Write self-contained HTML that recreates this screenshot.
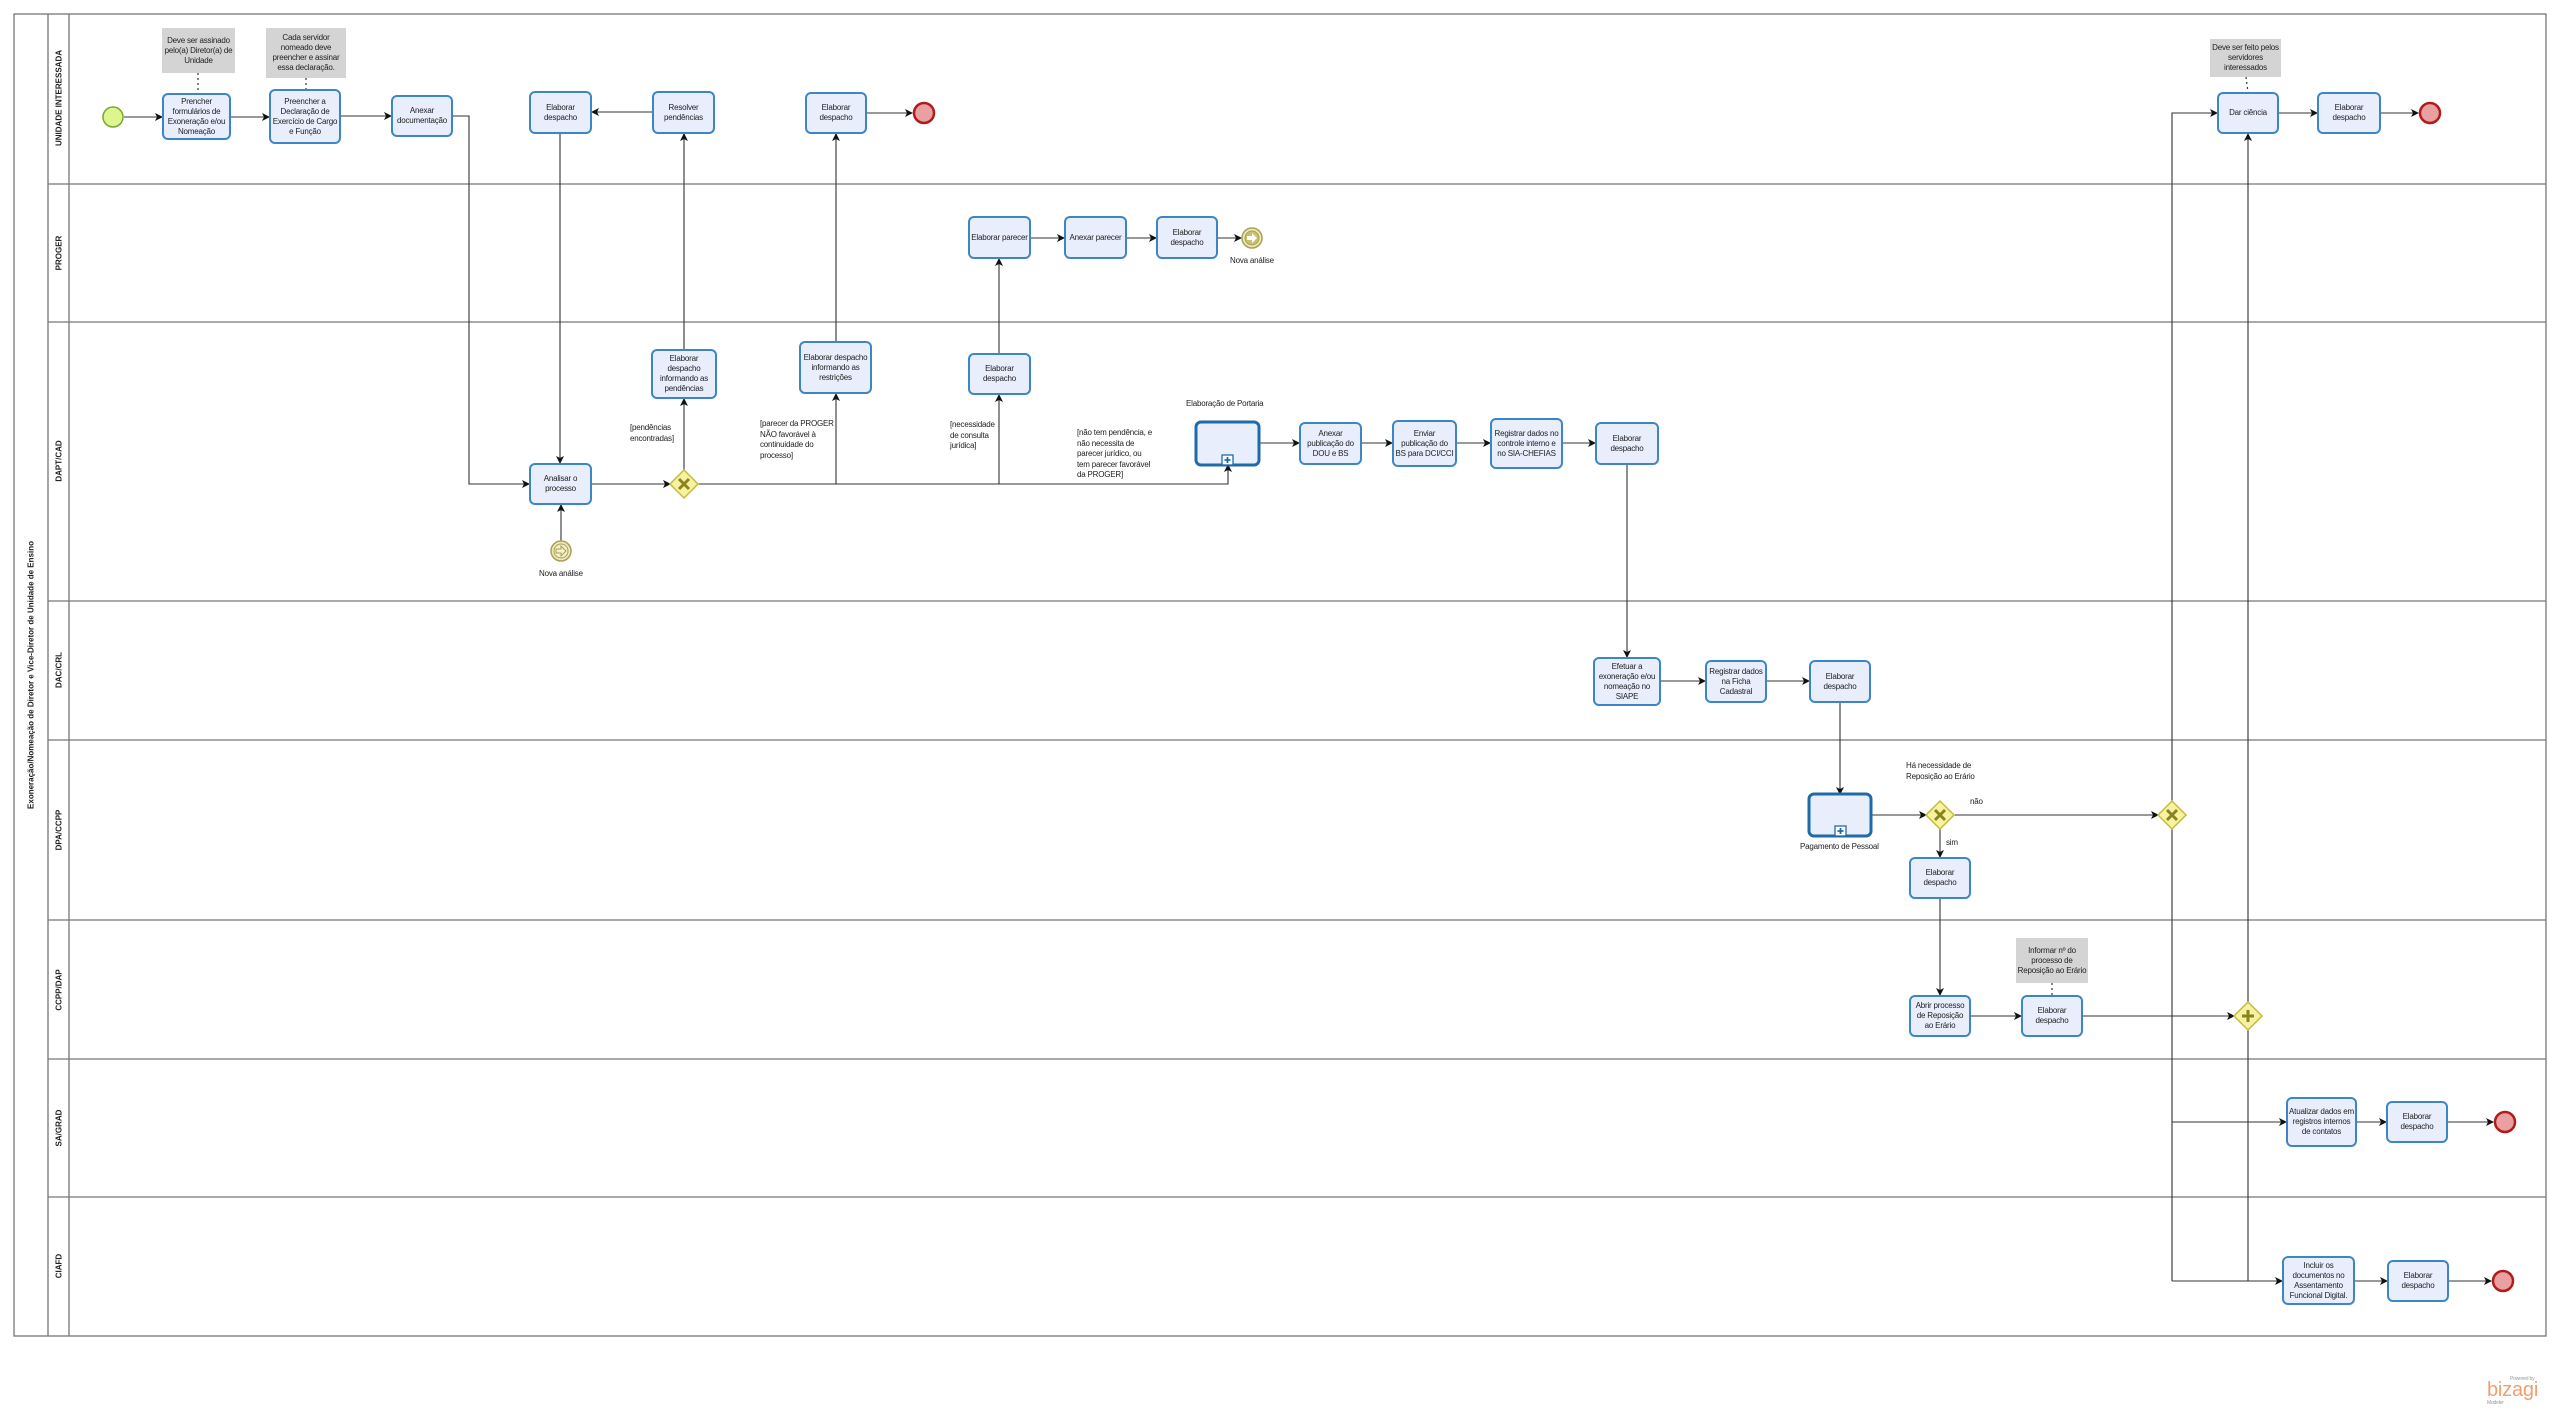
<!DOCTYPE html>
<html><head><meta charset="utf-8"><style>
body{margin:0;width:2560px;height:1414px;background:#fff;position:relative;overflow:hidden;font-family:"Liberation Sans",sans-serif;}
.t{position:absolute;box-sizing:border-box;border:2px solid #3d86c6;border-radius:6px;background:#e9eefd;display:flex;align-items:center;justify-content:center;text-align:center;font-size:8px;line-height:10px;letter-spacing:-0.2px;color:#222;padding:0 1px;}
.n{position:absolute;box-sizing:border-box;background:#d4d4d4;display:flex;align-items:center;justify-content:center;text-align:center;font-size:8px;line-height:10px;letter-spacing:-0.2px;color:#222;}
.l{position:absolute;font-size:8px;line-height:10.5px;letter-spacing:-0.2px;color:#222;}
svg{position:absolute;left:0;top:0;}
.lane{position:absolute;font-weight:bold;font-size:8px;white-space:nowrap;transform:translate(-50%,-50%) rotate(-90deg);color:#222;}
</style></head><body>
<svg width="2560" height="1414">
<defs>
<marker id="a" markerWidth="8" markerHeight="8" refX="7" refY="4" orient="auto" markerUnits="userSpaceOnUse"><path d="M0,0 L8,4 L0,8 L2,4 z" fill="#111"/></marker>
</defs>
<g fill="none" stroke="#777" stroke-width="1.3">
<rect x="14" y="14" width="2532" height="1322"/>
<line x1="48" y1="14" x2="48" y2="1336"/>
<line x1="69" y1="14" x2="69" y2="1336"/>
<line x1="48" y1="184" x2="2546" y2="184"/>
<line x1="48" y1="322" x2="2546" y2="322"/>
<line x1="48" y1="601" x2="2546" y2="601"/>
<line x1="48" y1="740" x2="2546" y2="740"/>
<line x1="48" y1="920" x2="2546" y2="920"/>
<line x1="48" y1="1059" x2="2546" y2="1059"/>
<line x1="48" y1="1197" x2="2546" y2="1197"/>
</g>
<g fill="none" stroke="#333" stroke-width="1.1" marker-end="url(#a)">
<line x1="124" y1="117" x2="162" y2="117"/>
<line x1="231" y1="117" x2="269" y2="117"/>
<line x1="341" y1="116" x2="391" y2="116"/>
<path d="M453,116 H469 V484 H529"/>
<line x1="652" y1="112" x2="592" y2="112"/>
<line x1="560" y1="134" x2="560" y2="463"/>
<line x1="684" y1="349" x2="684" y2="134"/>
<line x1="684" y1="470" x2="684" y2="399"/>
<line x1="836" y1="484" x2="836" y2="394"/>
<line x1="999" y1="484" x2="999" y2="395"/>
<path d="M698,484 H1228 V465"/>
<line x1="836" y1="341" x2="836" y2="134"/>
<line x1="999" y1="353" x2="999" y2="259"/>
<line x1="1031" y1="238" x2="1064" y2="238"/>
<line x1="1127" y1="238" x2="1156" y2="238"/>
<line x1="1218" y1="238" x2="1241" y2="238"/>
<line x1="592" y1="484" x2="670" y2="484"/>
<line x1="561" y1="541" x2="561" y2="505"/>
<line x1="867" y1="113" x2="912" y2="113"/>
<line x1="1259" y1="443" x2="1299" y2="443"/>
<line x1="1362" y1="443" x2="1392" y2="443"/>
<line x1="1457" y1="443" x2="1490" y2="443"/>
<line x1="1563" y1="443" x2="1595" y2="443"/>
<line x1="1627" y1="465" x2="1627" y2="657"/>
<line x1="1661" y1="681" x2="1705" y2="681"/>
<line x1="1767" y1="681" x2="1809" y2="681"/>
<line x1="1840" y1="703" x2="1840" y2="794"/>
<line x1="1871" y1="815" x2="1926" y2="815"/>
<line x1="1954" y1="815" x2="2158" y2="815"/>
<line x1="1940" y1="829" x2="1940" y2="857"/>
<line x1="1940" y1="899" x2="1940" y2="995"/>
<line x1="1971" y1="1016" x2="2021" y2="1016"/>
<line x1="2083" y1="1016" x2="2234" y2="1016"/>
<path d="M2172,1281 V113 H2217"/>
<line x1="2172" y1="1122" x2="2286" y2="1122"/>
<line x1="2172" y1="1281" x2="2282" y2="1281"/>
<line x1="2248" y1="1002" x2="2248" y2="134"/>
<line x1="2279" y1="113" x2="2317" y2="113"/>
<line x1="2381" y1="113" x2="2418" y2="113"/>
<line x1="2357" y1="1122" x2="2386" y2="1122"/>
<line x1="2448" y1="1122" x2="2493" y2="1122"/>
<line x1="2355" y1="1281" x2="2387" y2="1281"/>
<line x1="2449" y1="1281" x2="2491" y2="1281"/>
</g>
<line x1="2248" y1="1030" x2="2248" y2="1281" stroke="#333" stroke-width="1.1"/>
<g stroke="#333" stroke-width="1.2" stroke-dasharray="2,3">
<line x1="198" y1="73" x2="198" y2="93"/>
<line x1="306" y1="78" x2="306" y2="89"/>
<line x1="2246" y1="77" x2="2248" y2="92"/>
<line x1="2052" y1="983" x2="2052" y2="995"/>
</g>
<circle cx="113" cy="117" r="10" fill="#dcf58e" stroke="#7aa82c" stroke-width="1.5"/>
<g fill="#eaa0a0" stroke="#b01c1c" stroke-width="2.5">
<circle cx="924" cy="113" r="10"/>
<circle cx="2430" cy="113" r="10"/>
<circle cx="2505" cy="1122" r="10"/>
<circle cx="2503" cy="1281" r="10"/>
</g>
<g>
<circle cx="1252" cy="238" r="10" fill="#efe8b8" stroke="#a8a058" stroke-width="1.5"/>
<circle cx="1252" cy="238" r="7" fill="#c8c06a" stroke="#a8a058" stroke-width="1"/>
<path d="M1247,236 h5 v-3 l5,5 l-5,5 v-3 h-5z" fill="#fff"/>
<circle cx="561" cy="551" r="10" fill="#efe8b8" stroke="#a8a058" stroke-width="1.5"/>
<circle cx="561" cy="551" r="7" fill="#f4efcc" stroke="#a8a058" stroke-width="1"/>
<path d="M556,549 h5 v-3 l5,5 l-5,5 v-3 h-5z" fill="none" stroke="#a8a058"/>
</g>
<g fill="#f6f2a0" stroke="#c4bb3c" stroke-width="1.5">
<path d="M684,470 L698,484 L684,498 L670,484z"/>
<path d="M1940,801 L1954,815 L1940,829 L1926,815z"/>
<path d="M2172,801 L2186,815 L2172,829 L2158,815z"/>
<path d="M2248,1002 L2262,1016 L2248,1030 L2234,1016z"/>
</g>
<g stroke="#8a8420" stroke-width="3">
<path d="M679,479 l10,10 M689,479 l-10,10"/>
<path d="M1935,810 l10,10 M1945,810 l-10,10"/>
<path d="M2167,810 l10,10 M2177,810 l-10,10"/>
<path d="M2248,1010 v12 M2242,1016 h12"/>
</g>
<g fill="#e9eefd" stroke="#1f6aa8" stroke-width="3">
<rect x="1196" y="422" width="63" height="43" rx="5"/>
<rect x="1809" y="794" width="62" height="42" rx="5"/>
</g>
<g fill="#fff" stroke="#1f6aa8" stroke-width="1.3">
<rect x="1222" y="455" width="11" height="10"/>
<rect x="1835" y="826" width="11" height="10"/>
</g>
<g stroke="#1f6aa8" stroke-width="1.8">
<path d="M1227.5,457 v6 M1224.5,460 h6"/>
<path d="M1840.5,828 v6 M1837.5,831 h6"/>
</g>
</svg>

<div class="lane" style="left:31px;top:675px">Exoneração/Nomeação de Diretor e Vice-Diretor de Unidade de Ensino</div>
<div class="lane" style="left:59px;top:98px">UNIDADE INTERESSADA</div>
<div class="lane" style="left:59px;top:253px">PROGER</div>
<div class="lane" style="left:59px;top:461px">DAPT/CAD</div>
<div class="lane" style="left:59px;top:670px">DAC/CRL</div>
<div class="lane" style="left:59px;top:830px">DPA/CCPP</div>
<div class="lane" style="left:59px;top:990px">CCPP/DAP</div>
<div class="lane" style="left:59px;top:1128px">SA/GRAD</div>
<div class="lane" style="left:59px;top:1266px">CIAFD</div>

<div class="n" style="left:162px;top:28px;width:73px;height:45px">Deve ser assinado pelo(a) Diretor(a) de Unidade</div>
<div class="n" style="left:266px;top:28px;width:80px;height:50px">Cada servidor nomeado deve preencher e assinar essa declaração.</div>
<div class="n" style="left:2210px;top:39px;width:71px;height:38px">Deve ser feito pelos servidores interessados</div>
<div class="n" style="left:2016px;top:938px;width:72px;height:45px">Informar nº do processo de Reposição ao Erário</div>

<div class="t" style="left:162px;top:93px;width:69px;height:47px">Prencher formulários de Exoneração e/ou Nomeação</div>
<div class="t" style="left:269px;top:89px;width:72px;height:55px">Preencher a Declaração de Exercício de Cargo e Função</div>
<div class="t" style="left:391px;top:95px;width:62px;height:42px">Anexar documentação</div>
<div class="t" style="left:529px;top:91px;width:63px;height:43px">Elaborar despacho</div>
<div class="t" style="left:652px;top:91px;width:63px;height:43px">Resolver pendências</div>
<div class="t" style="left:805px;top:92px;width:62px;height:42px">Elaborar despacho</div>
<div class="t" style="left:2217px;top:92px;width:62px;height:42px">Dar ciência</div>
<div class="t" style="left:2317px;top:92px;width:64px;height:42px">Elaborar despacho</div>

<div class="t" style="left:968px;top:216px;width:63px;height:43px">Elaborar parecer</div>
<div class="t" style="left:1064px;top:216px;width:63px;height:43px">Anexar parecer</div>
<div class="t" style="left:1156px;top:216px;width:62px;height:43px">Elaborar despacho</div>
<div class="l" style="left:1230px;top:256px">Nova análise</div>

<div class="t" style="left:651px;top:349px;width:66px;height:50px">Elaborar despacho informando as pendências</div>
<div class="t" style="left:799px;top:341px;width:73px;height:53px">Elaborar despacho informando as restrições</div>
<div class="t" style="left:968px;top:353px;width:63px;height:42px">Elaborar despacho</div>
<div class="t" style="left:529px;top:463px;width:63px;height:42px">Analisar o processo</div>
<div class="l" style="left:539px;top:569px">Nova análise</div>
<div class="l" style="left:630px;top:423px">[pendências<br>encontradas]</div>
<div class="l" style="left:760px;top:419px">[parecer da PROGER<br>NÃO favorável à<br>continuidade do<br>processo]</div>
<div class="l" style="left:950px;top:420px">[necessidade<br>de consulta<br>jurídica]</div>
<div class="l" style="left:1077px;top:428px">[não tem pendência, e<br>não necessita de<br>parecer jurídico, ou<br>tem parecer favorável<br>da PROGER]</div>
<div class="l" style="left:1186px;top:399px">Elaboração de Portaria</div>
<div class="t" style="left:1299px;top:422px;width:63px;height:43px">Anexar publicação do DOU e BS</div>
<div class="t" style="left:1392px;top:420px;width:65px;height:47px">Enviar publicação do BS para DCI/CCI</div>
<div class="t" style="left:1490px;top:418px;width:73px;height:51px">Registrar dados no controle interno e no SIA-CHEFIAS</div>
<div class="t" style="left:1595px;top:422px;width:64px;height:43px">Elaborar despacho</div>

<div class="t" style="left:1593px;top:657px;width:68px;height:49px">Efetuar a exoneração e/ou nomeação no SIAPE</div>
<div class="t" style="left:1705px;top:660px;width:62px;height:43px">Registrar dados na Ficha Cadastral</div>
<div class="t" style="left:1809px;top:660px;width:62px;height:43px">Elaborar despacho</div>

<div class="l" style="left:1800px;top:842px">Pagamento de Pessoal</div>
<div class="l" style="left:1906px;top:761px">Há necessidade de<br>Reposição ao Erário</div>
<div class="l" style="left:1970px;top:797px">não</div>
<div class="l" style="left:1946px;top:838px">sim</div>
<div class="t" style="left:1909px;top:857px;width:62px;height:42px">Elaborar despacho</div>
<div class="t" style="left:1909px;top:995px;width:62px;height:42px">Abrir processo de Reposição ao Erário</div>
<div class="t" style="left:2021px;top:995px;width:62px;height:42px">Elaborar despacho</div>

<div class="t" style="left:2286px;top:1097px;width:71px;height:50px">Atualizar dados em registros internos de contatos</div>
<div class="t" style="left:2386px;top:1101px;width:62px;height:42px">Elaborar despacho</div>
<div class="t" style="left:2282px;top:1256px;width:73px;height:49px">Incluir os documentos no Assentamento Funcional Digital.</div>
<div class="t" style="left:2387px;top:1260px;width:62px;height:42px">Elaborar despacho</div>

<div class="l" style="left:2510px;top:1376px;font-size:5px;line-height:6px;color:#999">Powered by</div>
<div class="l" style="left:2487px;top:1380px;font-size:20px;line-height:20px;color:#f0a070">bizagi</div>
<div class="l" style="left:2487px;top:1400px;font-size:5px;line-height:6px;color:#999">Modeler</div>
</body></html>
